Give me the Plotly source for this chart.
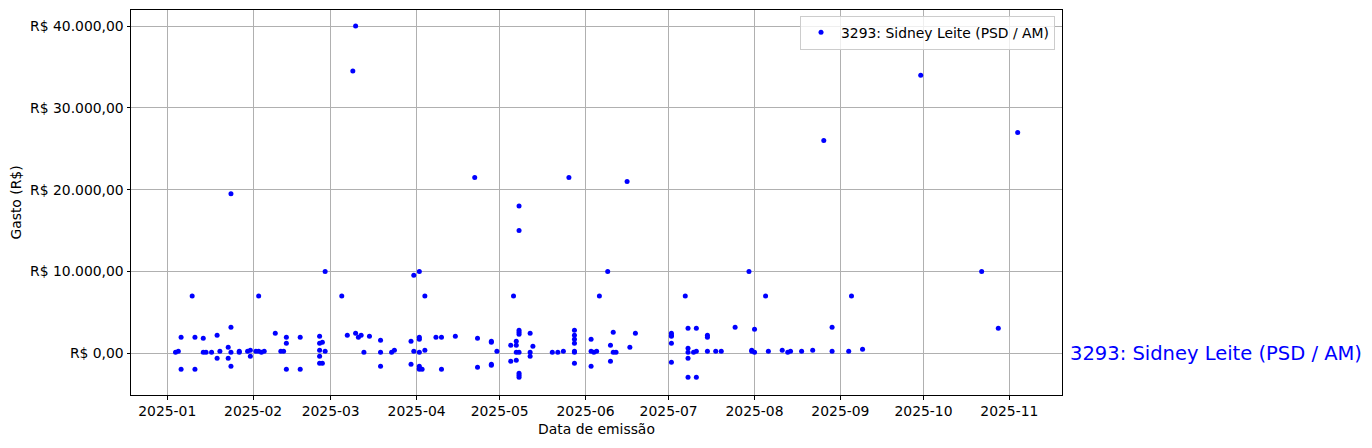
import plotly.graph_objects as go

series_name = "3293: Sidney Leite (PSD / AM)"

dates = [
    "2025-01-04", "2025-01-05", "2025-01-06", "2025-01-06", "2025-01-10", "2025-01-11", "2025-01-11",
    "2025-01-14", "2025-01-14", "2025-01-15", "2025-01-17", "2025-01-19", "2025-01-19", "2025-01-20",
    "2025-01-23", "2025-01-23", "2025-01-24", "2025-01-24", "2025-01-24", "2025-01-24", "2025-01-27",
    "2025-01-27", "2025-01-30", "2025-01-31", "2025-01-31",
    "2025-02-02", "2025-02-03", "2025-02-03", "2025-02-04", "2025-02-05", "2025-02-09", "2025-02-11",
    "2025-02-12", "2025-02-13", "2025-02-13", "2025-02-13", "2025-02-18", "2025-02-18", "2025-02-25",
    "2025-02-25", "2025-02-25", "2025-02-25", "2025-02-25", "2025-02-26", "2025-02-26", "2025-02-27",
    "2025-02-27",
    "2025-03-05", "2025-03-07", "2025-03-09", "2025-03-10", "2025-03-10", "2025-03-11", "2025-03-12",
    "2025-03-13", "2025-03-15", "2025-03-19", "2025-03-19", "2025-03-19", "2025-03-23", "2025-03-24",
    "2025-03-30", "2025-03-30", "2025-03-31", "2025-03-31",
    "2025-04-02", "2025-04-02", "2025-04-02", "2025-04-02", "2025-04-02", "2025-04-02", "2025-04-02",
    "2025-04-03", "2025-04-04", "2025-04-04", "2025-04-08", "2025-04-10", "2025-04-10", "2025-04-15",
    "2025-04-22", "2025-04-23", "2025-04-23", "2025-04-28", "2025-04-28", "2025-04-28", "2025-04-28",
    "2025-04-30",
    "2025-05-05", "2025-05-05", "2025-05-06", "2025-05-07", "2025-05-07", "2025-05-07", "2025-05-07",
    "2025-05-08", "2025-05-08", "2025-05-08", "2025-05-08", "2025-05-08", "2025-05-08", "2025-05-08",
    "2025-05-08", "2025-05-08", "2025-05-12", "2025-05-12", "2025-05-12", "2025-05-13", "2025-05-20",
    "2025-05-22", "2025-05-24", "2025-05-26", "2025-05-28", "2025-05-28", "2025-05-28", "2025-05-28",
    "2025-05-28", "2025-05-28", "2025-05-28",
    "2025-06-03", "2025-06-03", "2025-06-03", "2025-06-04", "2025-06-05", "2025-06-06", "2025-06-09",
    "2025-06-10", "2025-06-10", "2025-06-11", "2025-06-11", "2025-06-12", "2025-06-16", "2025-06-17",
    "2025-06-19",
    "2025-07-02", "2025-07-02", "2025-07-02", "2025-07-02", "2025-07-02", "2025-07-07", "2025-07-08",
    "2025-07-08", "2025-07-08", "2025-07-08", "2025-07-08", "2025-07-10", "2025-07-11", "2025-07-11",
    "2025-07-11", "2025-07-15", "2025-07-15", "2025-07-15", "2025-07-18", "2025-07-20", "2025-07-25",
    "2025-07-30", "2025-07-31", "2025-07-31",
    "2025-08-01", "2025-08-01", "2025-08-05", "2025-08-06", "2025-08-11", "2025-08-13", "2025-08-14",
    "2025-08-18", "2025-08-22", "2025-08-26", "2025-08-29", "2025-08-29",
    "2025-09-04", "2025-09-05", "2025-09-09", "2025-09-30",
    "2025-10-22", "2025-10-28", "2025-11-04",
]

gastos = [
    120, 250, 1950, -1960, 7000, 1950, -1960,
    1840, 120, 120, 120, 2200, -610, 250,
    730, -610, 19500, 3180, 120, -1590, 250,
    120, 250, 370, -370,
    250, 7000, 250, 120, 250, 2450, 250,
    250, 1950, 1220, -1960, 1950, -1960, 2080,
    1220, 370, -370, -1220, 1350, -1220, 10000,
    250,
    7000, 2200, 34500, 40000, 2450, 1950, 2200,
    120, 2080, 1590, -1590, 120, 120, 370,
    1470, -1350, 9530, 250,
    10000, 1950, 1715, -1590, -1840, -1960, 120,
    -1960, 7000, 370, 1950, 1950, -1960, 2080,
    21500, 1840, -1715, 1470, 1350, -1350, -1470,
    250,
    980, -980, 7000, 1470, 980, 120, -860,
    18000, 15000, 2820, 2570, 2330, 120, -2450,
    -2700, -2940, 2450, 120, -370, 860, 120,
    120, 250, 21500, 2820, 2200, 1715, 1220,
    120, 250, -1220,
    1715, 250, -1590, 120, 250, 7000, 10000,
    980, -980, 2570, 120, 120, 21000, 730,
    2450,
    2450, 2200, 2080, 1220, -1100, 7000, 3060,
    610, 120, -610, -2940, 120, 3060, 250,
    -2940, 2200, 1950, 250, 250, 250, 3180,
    10000, 370, 250,
    2940, 120, 7000, 250, 370, 120, 250,
    250, 370, 26000, 3180, 250,
    250, 7000, 490, 34000,
    10000, 3060, 27000,
]

y_tick_vals = [0, 10000, 20000, 30000, 40000]
y_tick_text = ["R$ 0,00", "R$ 10.000,00", "R$ 20.000,00", "R$ 30.000,00", "R$ 40.000,00"]

x_title = "Data de emissão"
y_title = "Gasto (R$)"

font_family = "DejaVu Sans"

fig = go.Figure()
fig.add_trace(go.Scatter(
    x=dates, y=gastos, mode="markers", name=series_name,
    marker=dict(color="#0000ff", size=5, line=dict(width=0)),
))

fig.add_annotation(
    xref="paper", yref="y", x=1, y=0, xshift=6,
    text=series_name, showarrow=False, xanchor="left", yanchor="middle",
    font=dict(family=font_family, size=19.5, color="#0000ff"),
)

axis_common = dict(
    showline=True, linecolor="black", linewidth=1, mirror=True,
    ticks="outside", ticklen=3.5, tickwidth=1, tickcolor="black",
    showgrid=True, gridcolor="#b0b0b0", gridwidth=1, zeroline=False,
    tickfont=dict(family=font_family, size=13.9, color="black"),
)

fig.update_layout(
    width=1364, height=440,
    margin=dict(l=123, r=310, t=2, b=53),
    paper_bgcolor="white", plot_bgcolor="white",
    font=dict(family=font_family, size=13.9, color="black"),
    showlegend=True,
    legend=dict(
        x=0.9925, y=0.985, xanchor="right", yanchor="top",
        bgcolor="rgba(255,255,255,0.8)", bordercolor="#cccccc", borderwidth=1,
        font=dict(family=font_family, size=13.9, color="black"),
        tracegroupgap=0,
    ),
    xaxis=dict(
        **axis_common,
        type="date",
        range=["2024-12-18 22:00", "2025-11-20 00:00"],
        dtick="M1", tick0="2025-01-01", tickformat="%Y-%m",
        title=dict(text=x_title, standoff=6, font=dict(family=font_family, size=13.9)),
    ),
    yaxis=dict(
        **axis_common,
        range=[-5108, 41970],
        tickvals=y_tick_vals, ticktext=y_tick_text,
        title=dict(text=y_title, standoff=8, font=dict(family=font_family, size=13.9)),
    ),
)

fig.write_html("out.html")
